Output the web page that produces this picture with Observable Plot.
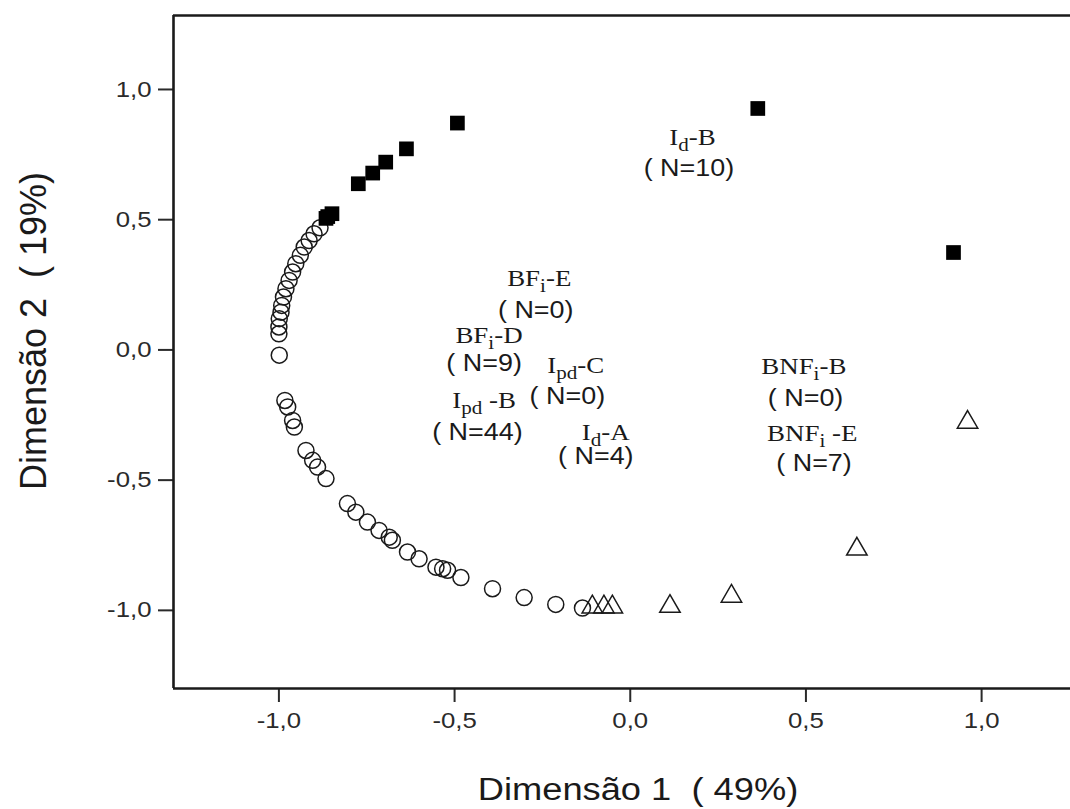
<!DOCTYPE html>
<html><head><meta charset="utf-8">
<script src="https://cdn.jsdelivr.net/npm/d3@7"></script>
<script src="https://cdn.jsdelivr.net/npm/@observablehq/plot@0.6"></script>
<style>
body{margin:0;background:#fff}
#chart{position:absolute;left:0;top:0}
</style>
</head><body><div id="chart"></div>
<script>
// ---- data (data units) ----
const xTicks = [-1, -0.5, 0, 0.5, 1];
const yTicks = [-1, -0.5, 0, 0.5, 1];
const xTitle = "Dimensão 1\u00a0\u00a0( 49%)";
const yTitle = "Dimensão 2\u00a0\u00a0( 19%)";

// open circles
const circleX = [-0.883,-0.900,-0.914,-0.928,-0.939,-0.952,-0.961,-0.971,-0.980,-0.987,-0.992,-0.994,-0.999,-1.000,-1.000,-0.999,
  -0.983,-0.975,-0.961,-0.956,-0.923,-0.904,-0.890,-0.866,-0.805,-0.781,-0.748,-0.715,-0.686,-0.677,-0.634,-0.601,-0.553,-0.534,-0.520,-0.482,-0.392,-0.302,-0.212,-0.136];
const circleY = [0.469,0.446,0.420,0.395,0.363,0.331,0.299,0.267,0.235,0.203,0.171,0.145,0.120,0.088,0.062,-0.020,
  -0.194,-0.219,-0.271,-0.296,-0.386,-0.424,-0.450,-0.494,-0.590,-0.623,-0.661,-0.693,-0.719,-0.731,-0.776,-0.802,-0.834,-0.840,-0.846,-0.874,-0.917,-0.951,-0.977,-0.991];

// filled squares
const squareX = [-0.866,-0.861,-0.849,-0.774,-0.733,-0.696,-0.637,-0.492,0.363,0.920];
const squareY = [0.505,0.512,0.523,0.638,0.679,0.721,0.772,0.871,0.927,0.374];

// open triangles
const triangleX = [-0.108,-0.075,-0.051,0.113,0.288,0.645,0.960];
const triangleY = [-0.987,-0.987,-0.987,-0.985,-0.946,-0.765,-0.278];

// group labels
const labelBase   = ["BF","BF","I","I","I","I","BNF","BNF"];
const labelSub    = ["i","i","pd","pd","d","d","i","i"];
const labelSuffix = ["-E","-D","-C"," -B","-A","-B","-B"," -E"];
const labelX      = [-0.259,-0.402,-0.155,-0.416,-0.070,0.177,0.494,0.518];
const labelY      = [0.273,0.056,-0.060,-0.194,-0.316,0.817,-0.066,-0.322];
const countText   = ["( N=0)","( N=9)","( N=0)","( N=44)","( N=4)","( N=10)","( N=0)","( N=7)"];
const countX      = [-0.269,-0.416,-0.179,-0.435,-0.098,0.167,0.499,0.523];
const countY      = [0.152,-0.053,-0.181,-0.316,-0.410,0.696,-0.187,-0.437];

// ---- tables built from the arrays ----
const circles = circleX.map((x,i)=>({x, y: circleY[i]}));
const squares = squareX.map((x,i)=>({x, y: squareY[i]}));
const triangles = triangleX.map((x,i)=>({x, y: triangleY[i]}));
const names = labelBase.map((b,i)=>({x: labelX[i], y: labelY[i], base: b, sub: labelSub[i], suffix: labelSuffix[i], full: b + labelSub[i] + labelSuffix[i]}));
const counts = countText.map((t,i)=>({x: countX[i], y: countY[i], t}));

const W = 1070, H = 809, ML = 173, MR = 0, MT = 15, MB = 121;
const X0 = -1.3, X1 = 1.253, Y0 = -1.3, Y1 = 1.284;
const fmt = d => d.toFixed(1).replace(".", ",");
const SANS = "'Liberation Sans', Arial, sans-serif";
const SERIF = "'Liberation Serif', 'Times New Roman', serif";

const chart = Plot.plot({
  width: W,
  height: H,
  marginTop: MT,
  marginBottom: MB,
  marginLeft: ML,
  marginRight: MR,
  style: {fontFamily: SANS, background: "#fff", overflow: "visible"},
  x: {domain: [X0, X1]},
  y: {domain: [Y0, Y1]},
  marks: [
    // axes: outward ticks + labels
    Plot.axisX({ticks: xTicks, tickSize: 14, tickPadding: 10, tickFormat: fmt, fontSize: 22, color: "#2a2a2a", strokeWidth: 2, strokeOpacity: 1, label: null}),
    Plot.axisY({ticks: yTicks, tickSize: 15, tickPadding: 7, tickFormat: fmt, fontSize: 22, color: "#2a2a2a", strokeWidth: 2, strokeOpacity: 1, label: null}),
    // frame (right side lies outside the picture)
    Plot.ruleX([X0], {stroke: "#1a1a1a", strokeWidth: 2.6}),
    Plot.ruleY([Y1], {stroke: "#1a1a1a", strokeWidth: 2.6}),
    Plot.ruleY([Y0], {stroke: "#1a1a1a", strokeWidth: 2.6}),
    Plot.dot(circles, {x: "x", y: "y", r: 8, fill: "none", stroke: "#1a1a1a", strokeWidth: 1.5}),
    Plot.dot(squares, {x: "x", y: "y", symbol: "square", r: 8.3, fill: "#000", stroke: "none"}),
    Plot.dot(triangles, {x: "x", y: "y", symbol: "triangle", r: 7.6, fill: "none", stroke: "#1a1a1a", strokeWidth: 1.5}),
    Plot.text(names, {x: "x", y: "y", text: "full", fontFamily: SERIF, fontSize: 23, fill: "#1a1a1a"}),
    Plot.text(counts, {x: "x", y: "y", text: "t", fontFamily: SANS, fontSize: 23, fill: "#1a1a1a"}),
    Plot.text([xTitle], {frameAnchor: "bottom", textAnchor: "middle", lineAnchor: "middle", dx: 16, dy: 102, fontSize: 31, fill: "#1a1a1a"}),
    Plot.text([yTitle], {frameAnchor: "left", textAnchor: "middle", lineAnchor: "middle", rotate: -90, dx: -139, dy: -21, fontSize: 36, fill: "#1a1a1a"})
  ]
});
document.getElementById("chart").appendChild(chart);

const ns = "http://www.w3.org/2000/svg";
// subscripts for group names
chart.querySelectorAll("text").forEach(t => {
  const d = names.find(n => n.full === t.textContent);
  if (!d) return;
  t.textContent = "";
  const a = document.createElementNS(ns, "tspan"); a.textContent = d.base;
  const b = document.createElementNS(ns, "tspan"); b.textContent = d.sub;
  b.setAttribute("font-size", "18"); b.setAttribute("dy", "6");
  const c = document.createElementNS(ns, "tspan"); c.textContent = d.suffix; c.setAttribute("dy", "-6");
  t.appendChild(a); t.appendChild(b); t.appendChild(c);
});

// the reference's horizontal text is slightly stretched
const SX = 1.17;
chart.querySelectorAll("text").forEach(t => {
  if (t.textContent === yTitle) return;
  const len = t.getComputedTextLength();
  if (len > 0) {
    t.setAttribute("textLength", (len * SX).toFixed(1));
    t.setAttribute("lengthAdjust", "spacingAndGlyphs");
  }
});
</script>
</body></html>
